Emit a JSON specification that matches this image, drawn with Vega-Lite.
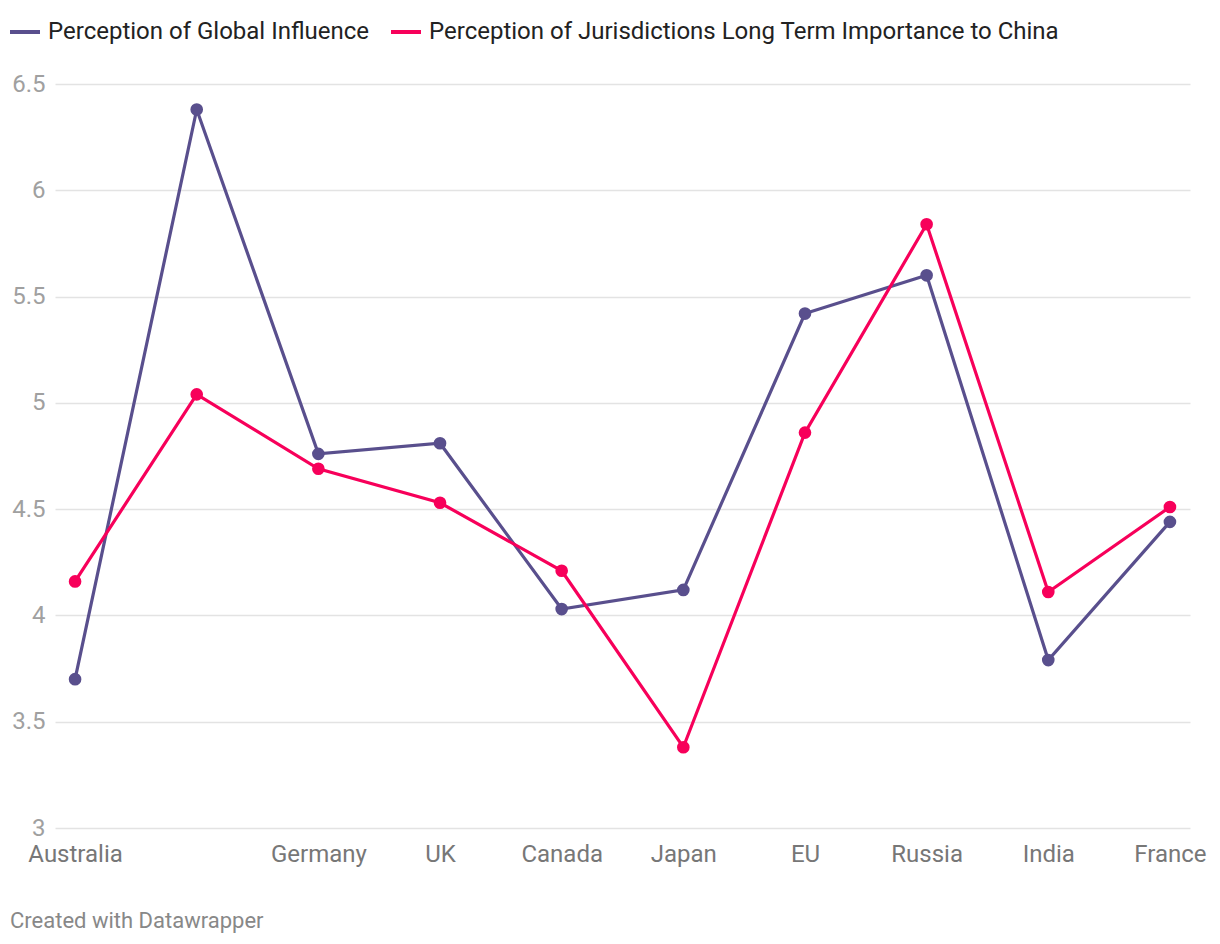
{
  "$schema": "https://vega.github.io/schema/vega-lite/v6.json",
  "autosize": {"type": "none"},
  "width": 1135,
  "height": 744,
  "padding": {"left": 55, "top": 84, "right": 30, "bottom": 116},
  "background": "white",
  "config": {
    "font": "Roboto",
    "view": {"stroke": null}
  },
  "title": {
    "text": "Created with Datawrapper",
    "orient": "bottom",
    "anchor": "start",
    "frame": "bounds",
    "fontSize": 22,
    "fontWeight": "normal",
    "color": "#888888",
    "offset": 45,
    "dx": 2
  },
  "data": {
    "values": [
      {"country": "Australia", "series": "Perception of Global Influence", "value": 3.70},
      {"country": "United States", "series": "Perception of Global Influence", "value": 6.38},
      {"country": "Germany", "series": "Perception of Global Influence", "value": 4.76},
      {"country": "UK", "series": "Perception of Global Influence", "value": 4.81},
      {"country": "Canada", "series": "Perception of Global Influence", "value": 4.03},
      {"country": "Japan", "series": "Perception of Global Influence", "value": 4.12},
      {"country": "EU", "series": "Perception of Global Influence", "value": 5.42},
      {"country": "Russia", "series": "Perception of Global Influence", "value": 5.60},
      {"country": "India", "series": "Perception of Global Influence", "value": 3.79},
      {"country": "France", "series": "Perception of Global Influence", "value": 4.44},
      {"country": "Australia", "series": "Perception of Jurisdictions Long Term Importance to China", "value": 4.16},
      {"country": "United States", "series": "Perception of Jurisdictions Long Term Importance to China", "value": 5.04},
      {"country": "Germany", "series": "Perception of Jurisdictions Long Term Importance to China", "value": 4.69},
      {"country": "UK", "series": "Perception of Jurisdictions Long Term Importance to China", "value": 4.53},
      {"country": "Canada", "series": "Perception of Jurisdictions Long Term Importance to China", "value": 4.21},
      {"country": "Japan", "series": "Perception of Jurisdictions Long Term Importance to China", "value": 3.38},
      {"country": "EU", "series": "Perception of Jurisdictions Long Term Importance to China", "value": 4.86},
      {"country": "Russia", "series": "Perception of Jurisdictions Long Term Importance to China", "value": 5.84},
      {"country": "India", "series": "Perception of Jurisdictions Long Term Importance to China", "value": 4.11},
      {"country": "France", "series": "Perception of Jurisdictions Long Term Importance to China", "value": 4.51}
    ]
  },
  "encoding": {
    "x": {
      "field": "country",
      "type": "nominal",
      "sort": null,
      "scale": {"type": "point", "padding": 0.165},
      "axis": {
        "title": null,
        "labelAngle": 0,
        "domain": false,
        "ticks": false,
        "tickSize": 0,
        "grid": false,
        "labelFontSize": 24,
        "labelColor": "#777777",
        "labelPadding": 14,
        "labelLimit": 0,
        "labelExpr": "datum.value == 'United States' ? '' : datum.value"
      }
    },
    "y": {
      "field": "value",
      "type": "quantitative",
      "scale": {"domain": [3, 6.5], "zero": false, "nice": false},
      "axis": {
        "title": null,
        "values": [3, 3.5, 4, 4.5, 5, 5.5, 6, 6.5],
        "format": "~g",
        "domain": false,
        "ticks": false,
        "tickSize": 0,
        "grid": true,
        "gridColor": "#e3e3e3",
        "gridWidth": 1.5,
        "labelFontSize": 24,
        "labelColor": "#a0a0a0",
        "labelPadding": 10
      }
    },
    "color": {
      "field": "series",
      "type": "nominal",
      "scale": {
        "domain": ["Perception of Global Influence", "Perception of Jurisdictions Long Term Importance to China"],
        "range": ["#594f8d", "#f7005a"]
      },
      "legend": {
        "title": null,
        "orient": "none",
        "direction": "horizontal",
        "legendX": -47,
        "legendY": -69,
        "symbolType": "stroke",
        "symbolStrokeWidth": 4,
        "symbolSize": 900,
        "labelFontSize": 24,
        "labelLimit": 0,
        "labelColor": "#222222",
        "labelOffset": 6,
        "columnPadding": 13
      }
    }
  },
  "layer": [
    {"mark": {"type": "line", "strokeWidth": 3.2}},
    {"mark": {"type": "point", "filled": true, "size": 160, "opacity": 1}}
  ]
}
